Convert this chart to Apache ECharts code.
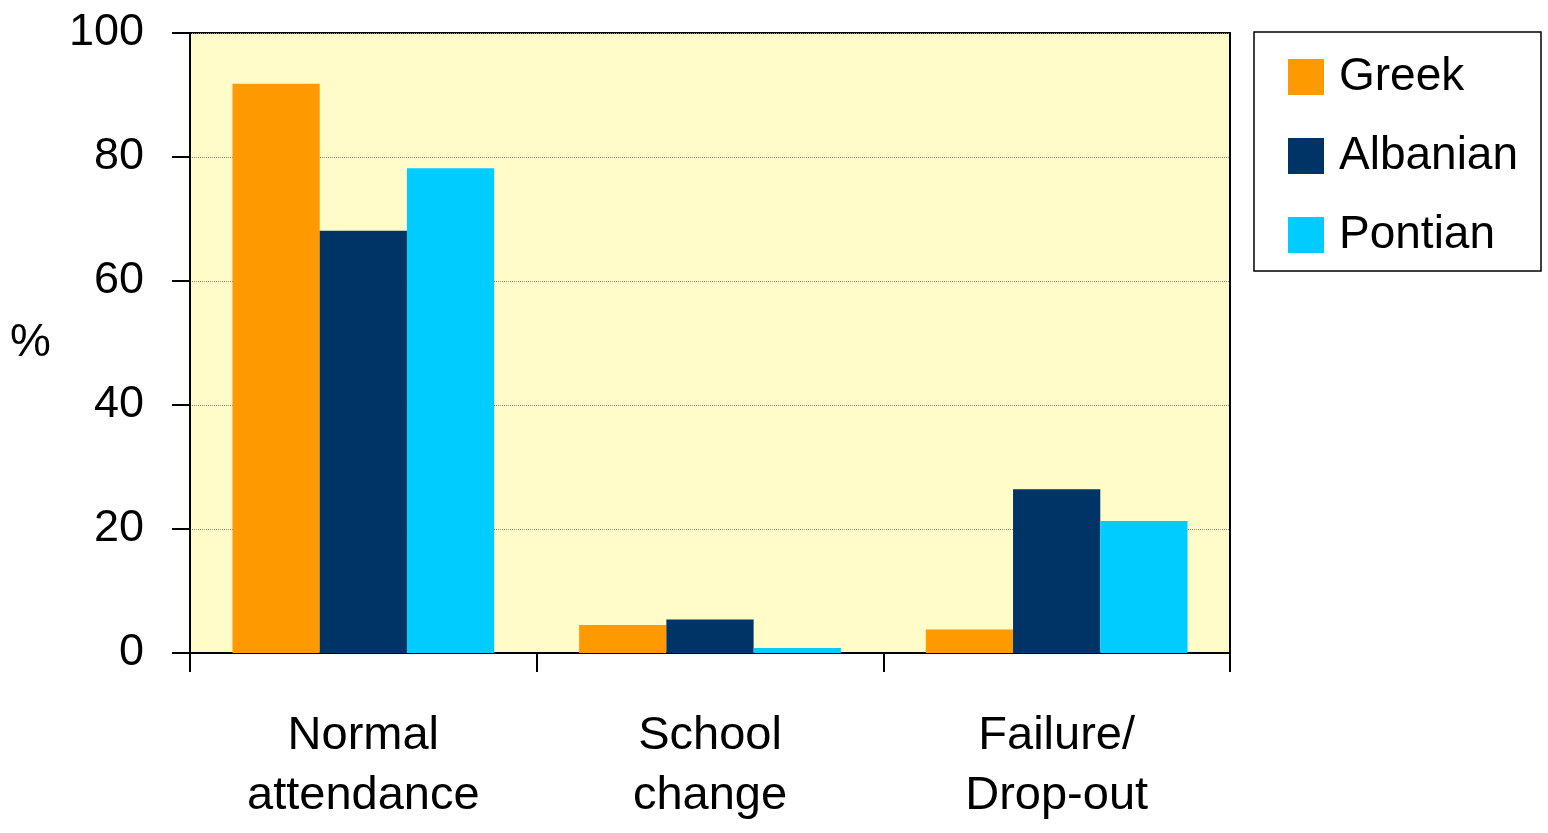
<!DOCTYPE html>
<html>
<head>
<meta charset="utf-8">
<script src="https://cdn.jsdelivr.net/npm/echarts@6/dist/echarts.min.js"></script>
<style>
  html, body { margin: 0; padding: 0; background: #ffffff; }
  #chart { width: 1548px; height: 833px; }
</style>
</head>
<body>
<div id="chart"></div>
<script>
// School outcome categories (x axis)
const categories = ['Normal\nattendance', 'School\nchange', 'Failure/\nDrop-out'];
// Share of pupils (%) per group
const greek    = [91.8, 4.5, 3.8];
const albanian = [68.1, 5.4, 26.4];
const pontian  = [78.2, 0.8, 21.3];
const seriesNames = ['Greek', 'Albanian', 'Pontian'];
const seriesColors = ['#FF9900', '#003366', '#00CCFF'];
const yTicks = [0, 20, 40, 60, 80, 100];

const chart = echarts.init(document.getElementById('chart'), null, { renderer: 'canvas' });

const values = [greek, albanian, pontian];
const series = seriesNames.map((name, i) => ({
  name: name,
  type: 'bar',
  data: values[i],
  barGap: '0%',
  barCategoryGap: '24.5%',
  itemStyle: { color: seriesColors[i] }
}));

const font = 'Liberation Sans, Arial, sans-serif';

chart.setOption({
  animation: false,
  backgroundColor: '#ffffff',
  textStyle: { fontFamily: font, color: '#000' },
  grid: {
    left: 190, right: 318, top: 33, bottom: 180,
    show: true,
    backgroundColor: '#FFFCCA',
    borderColor: '#000',
    borderWidth: 2
  },
  legend: {
    orient: 'vertical',
    left: 1288,
    top: 54,
    padding: 0,
    itemWidth: 36,
    itemHeight: 36,
    itemGap: 33,
    icon: 'rect',
    textStyle: {
      fontSize: 46,
      lineHeight: 46,
      color: '#000',
      padding: [0, 0, 0, 10],
      fontFamily: font
    },
    data: seriesNames
  },
  graphic: [{
    type: 'rect',
    shape: { x: 1254, y: 32, width: 287, height: 239 },
    style: { fill: 'none', stroke: '#000', lineWidth: 1.5 },
    z: 100
  }],
  xAxis: {
    type: 'category',
    data: categories,
    axisLine: { show: true, lineStyle: { color: '#000', width: 2 } },
    axisTick: { show: true, length: 19, lineStyle: { color: '#000', width: 2 } },
    axisLabel: {
      margin: 53,
      fontSize: 47,
      lineHeight: 60,
      color: '#000',
      fontFamily: font,
      interval: 0
    },
    splitLine: { show: false }
  },
  yAxis: {
    type: 'value',
    min: yTicks[0],
    max: yTicks[yTicks.length - 1],
    interval: yTicks[1] - yTicks[0],
    name: '%',
    nameLocation: 'middle',
    nameRotate: 0,
    nameGap: 139,
    nameTextStyle: { fontSize: 46, color: '#000', align: 'right', verticalAlign: 'middle', padding: [8, 0, 0, 0] },
    axisLine: { show: true, lineStyle: { color: '#000', width: 2 } },
    axisTick: { show: true, inside: false, length: 18, lineStyle: { color: '#000', width: 2 } },
    axisLabel: { margin: 46, fontSize: 45, color: '#000' },
    splitLine: { show: true, lineStyle: { color: '#8a8a7a', width: 1, type: 'dotted' } }
  },
  series: series
});
</script>
</body>
</html>
